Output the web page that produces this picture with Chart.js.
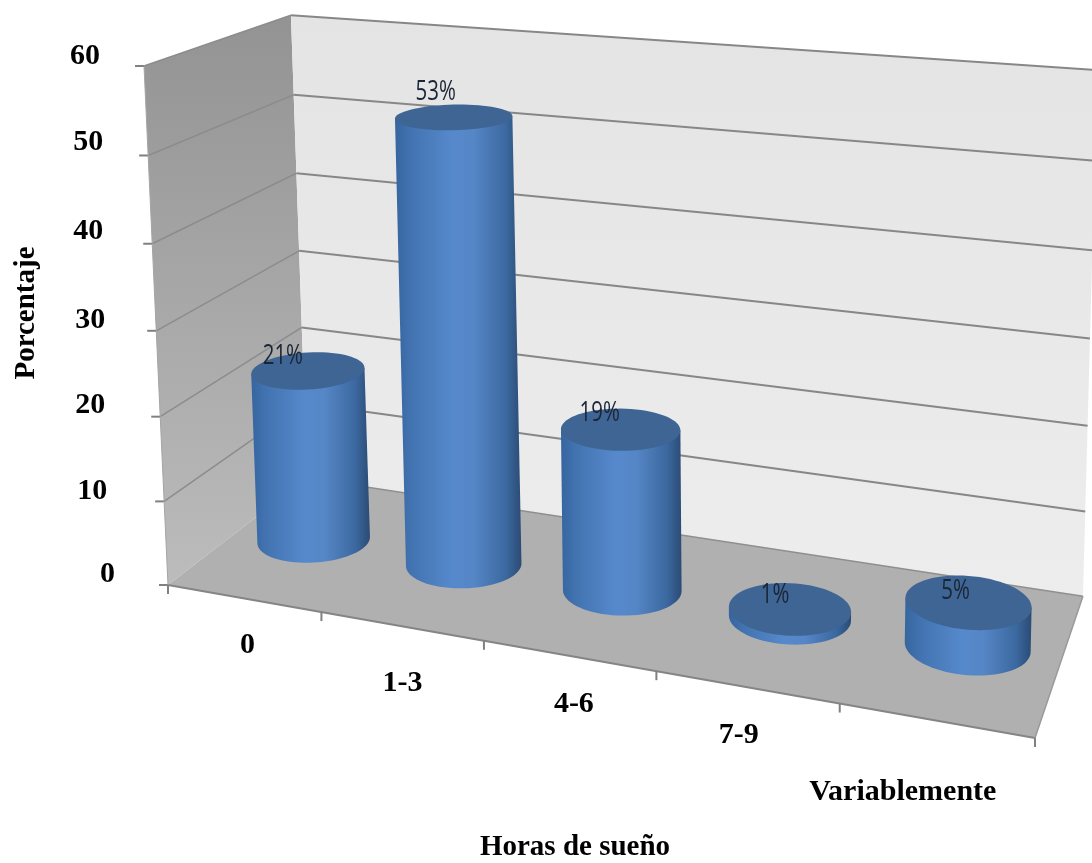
<!DOCTYPE html>
<html lang="es">
<head>
<meta charset="utf-8">
<title>Horas de sueño</title>
<script src="https://cdn.jsdelivr.net/npm/chart.js@4"></script>
<style>
  html, body { margin: 0; background: #fff; }
  canvas { display: block; }
</style>
</head>
<body>
<canvas id="sleep-chart" width="1092" height="863"></canvas>
<script>
const categories = ['0', '1-3', '4-6', '7-9', 'Variablemente']
const percentages = [21, 53, 19, 1, 5]
const yTicks = [0, 10, 20, 30, 40, 50, 60]
const xAxisTitle = 'Horas de sueño'
const yAxisTitle = 'Porcentaje'

// Box corners on screen and the perspective terms along width, height, depth
const ORIGIN = [168, 585]
const WIDTH_END = [1035, 738]
const HEIGHT_END = [144, 66]
const DEPTH_END = [307, 478]
const PERSP = { u: -0.14, v: -0.04, w: 0.126 }

// Label nudges, in the same order as the arrays above
const yLabelNudge = [[-53, -11], [-57, -10], [-55, -11], [-51, -11], [-49, -12], [-45, -13], [-44, -10]]
const xLabelNudge = [[4, 47], [1, 57], [5, 49], [-8, 48], [-33, 72]]
const valueNudge = [[-25, -15], [-18, -25], [-21, -17], [-15, -14], [-13, -12]]

const DEPTH_CENTER = 0.5
const DEPTH_RADIUS = 0.205

function project(u, v, w) {
  const d = 1 + PERSP.u * u + PERSP.v * v + PERSP.w * w
  const axis = (i) =>
    ORIGIN[i] +
    u * ((1 + PERSP.u) * WIDTH_END[i] - ORIGIN[i]) +
    v * ((1 + PERSP.v) * HEIGHT_END[i] - ORIGIN[i]) +
    w * ((1 + PERSP.w) * DEPTH_END[i] - ORIGIN[i])
  return [axis(0) / d, axis(1) / d]
}

function polygon(ctx, pts, fill) {
  ctx.beginPath()
  pts.forEach((p, i) => (i ? ctx.lineTo(p[0], p[1]) : ctx.moveTo(p[0], p[1])))
  ctx.closePath()
  ctx.fillStyle = fill
  ctx.fill()
}

function segment(ctx, a, b, color, width) {
  ctx.beginPath()
  ctx.moveTo(a[0], a[1])
  ctx.lineTo(b[0], b[1])
  ctx.strokeStyle = color
  ctx.lineWidth = width
  ctx.stroke()
}

function drawBox(ctx, vOf) {
  const wall = ctx.createLinearGradient(0, 15, 0, 585)
  wall.addColorStop(0, '#939393')
  wall.addColorStop(1, '#bcbcbc')
  polygon(ctx, [project(0, 0, 0), project(0, 1, 0), project(0, 1, 1), project(0, 0, 1)], wall)

  const back = ctx.createLinearGradient(0, 15, 0, 595)
  back.addColorStop(0, '#e4e4e4')
  back.addColorStop(1, '#ededed')
  polygon(ctx, [project(0, 0, 1), project(0, 1, 1), project(1, 1, 1), project(1, 0, 1)], back)

  polygon(ctx, [project(0, 0, 0), project(1, 0, 0), project(1, 0, 1), project(0, 0, 1)], '#b0b0b0')

  yTicks.forEach((t) => {
    const v = vOf(t)
    if (t > 0) {
      segment(ctx, project(0, v, 0), project(0, v, 1), '#8c8c8c', 1.5)
      segment(ctx, project(0, v, 1), project(1, v, 1), '#878787', 2)
    }
    const p = project(0, v, 0)
    segment(ctx, [p[0] - 9, p[1]], [p[0], p[1]], '#808080', 2)
  })
  segment(ctx, project(0, 0, 1), project(1, 0, 1), '#8f8f8f', 1.5)
  segment(ctx, project(0, 0, 0), project(1, 0, 0), '#858585', 2)
  segment(ctx, project(1, 0, 0), project(1, 0, 1), '#9a9a9a', 1.5)
  segment(ctx, project(0, 0, 0), project(0, 1, 0), '#a4a4a4', 1)

  categories.forEach((c, i) => {
    const a = project(i / categories.length, 0, 0)
    segment(ctx, a, [a[0], a[1] + 9], '#808080', 2)
  })
  const end = project(1, 0, 0)
  segment(ctx, end, [end[0], end[1] + 9], '#808080', 2)
}

// Ellipse sized from the projected radii; it leans a little more towards the right of the box
function ring(u, ru, v) {
  const c = project(u, v, DEPTH_CENTER)
  const span = (project(u + ru, v, DEPTH_CENTER)[0] - project(u - ru, v, DEPTH_CENTER)[0]) / 2
  const rx = 0.5 * span + 30 // widths change less across the box than the floor does
  const near = project(u, v, DEPTH_CENTER - DEPTH_RADIUS)
  const far = project(u, v, DEPTH_CENTER + DEPTH_RADIUS)
  const ry = (near[1] - far[1]) / 2
  const lean = -0.07 + 0.16 * u
  const pts = []
  for (let k = 0; k < 72; k++) {
    const t = (k / 72) * Math.PI * 2
    const dx = rx * Math.cos(t)
    pts.push([c[0] + dx, c[1] + lean * dx - ry * Math.sin(t)])
  }
  return pts
}

function drawCylinder(ctx, u, ru, vTop) {
  const bottom = ring(u, ru, 0)
  const top = ring(u, ru, vTop)

  // k = 36 is the left extreme, k = 0 the right one, and 36..72 is the front of the base
  const outline = [top[36]]
  for (let k = 36; k <= 72; k++) outline.push(bottom[k % 72])
  outline.push(top[0])

  const shade = ctx.createLinearGradient(Math.min(top[36][0], bottom[36][0]), 0, Math.max(top[0][0], bottom[0][0]), 0)
  shade.addColorStop(0, '#36659f')
  shade.addColorStop(0.12, '#4273b0')
  shade.addColorStop(0.45, '#5689cc')
  shade.addColorStop(0.62, '#5586c6')
  shade.addColorStop(0.88, '#3b689f')
  shade.addColorStop(1, '#2b4b74')
  polygon(ctx, outline, shade)
  polygon(ctx, top, '#3e6594')
}

const sleepPlugin = {
  id: 'sleepBox',
  beforeDatasetsDraw(chart) {
    const { ctx, chartArea: area, scales } = chart
    const vOf = (t) => (area.bottom - scales.y.getPixelForValue(t)) / area.height
    const uOf = (x) => (x - area.left) / area.width
    const bars = chart.getDatasetMeta(0).data

    ctx.save()
    drawBox(ctx, vOf)

    bars.forEach((bar) => {
      const u = uOf(bar.x)
      const v = (area.bottom - bar.y) / area.height
      drawCylinder(ctx, u, bar.width / area.width / 2, v)
    })

    // percentages sit on the back rim of each top face, narrowed horizontally
    ctx.textAlign = 'center'
    ctx.textBaseline = 'middle'
    ctx.fillStyle = '#1a2536'
    ctx.font = '28px "Open Sans", sans-serif'
    bars.forEach((bar, i) => {
      const c = project(uOf(bar.x), (area.bottom - bar.y) / area.height, DEPTH_CENTER)
      ctx.save()
      ctx.translate(c[0] + valueNudge[i][0], c[1] + valueNudge[i][1])
      ctx.scale(0.73, 1)
      ctx.fillText(percentages[i] + '%', 0, 0)
      ctx.restore()
    })

    ctx.fillStyle = '#000'
    ctx.font = 'bold 30px "Liberation Serif", serif'
    yTicks.forEach((t, i) => {
      const p = project(0, vOf(t), 0)
      ctx.textAlign = 'right'
      ctx.fillText(String(t), p[0] + yLabelNudge[i][0], p[1] + yLabelNudge[i][1])
    })
    ctx.textAlign = 'center'
    categories.forEach((c, i) => {
      const p = project(uOf(bars[i].x), 0, 0)
      ctx.fillText(c, p[0] + xLabelNudge[i][0], p[1] + xLabelNudge[i][1])
    })

    ctx.font = 'bold 29px "Liberation Serif", serif'
    ctx.fillText(xAxisTitle, 575, 848)
    ctx.translate(27, 313)
    ctx.rotate(-Math.PI / 2)
    ctx.fillText(yAxisTitle, 0, 0)
    ctx.restore()
  }
}

new Chart(document.getElementById('sleep-chart'), {
  type: 'bar',
  data: {
    labels: categories,
    datasets: [{
      data: percentages,
      backgroundColor: 'transparent',
      borderWidth: 0,
      barPercentage: 0.72,
      categoryPercentage: 1
    }]
  },
  options: {
    responsive: false,
    animation: false,
    layout: { padding: 0 },
    plugins: { legend: { display: false }, tooltip: { enabled: false } },
    scales: {
      x: { display: false },
      y: { display: false, min: 0, max: 60 }
    }
  },
  plugins: [sleepPlugin]
})
</script>
</body>
</html>
